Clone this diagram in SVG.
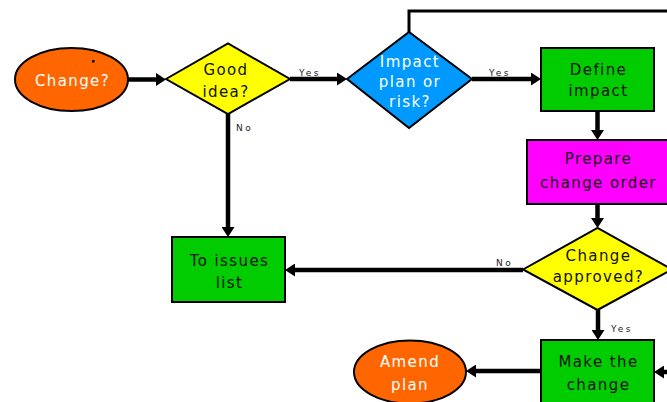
<svg xmlns="http://www.w3.org/2000/svg" width="667" height="402" viewBox="0 0 667 402">
<defs>
<style>
.sh{stroke:#000;stroke-width:2}
.t{font-family:"DejaVu Sans",sans-serif;font-size:15px;letter-spacing:1.4px;text-anchor:middle}
.w{fill:#fff}
.d{fill:#111}
.lb{font-family:"DejaVu Sans",sans-serif;font-size:9px;letter-spacing:2.5px;fill:#222}
.c{fill:none;stroke:#000;stroke-width:4.5;marker-end:url(#ah)}
.c2{fill:none;stroke:#000;stroke-width:3}
</style>
<marker id="ah" markerUnits="userSpaceOnUse" markerWidth="12" markerHeight="13" viewBox="0 0 10 13" refX="2" refY="6.5" orient="auto">
<path d="M0,0 L10,6.5 L0,13 z" fill="#000"/>
</marker>
</defs>
<rect width="667" height="402" fill="#fff"/>
<g id="connectors">
<line class="c" x1="128" y1="79.5" x2="158" y2="79.5"/>
<line class="c" x1="290" y1="79" x2="339" y2="79"/>
<text class="lb" x="299" y="76">Yes</text>
<line class="c" x1="472" y1="79" x2="533" y2="79"/>
<text class="lb" x="489" y="76">Yes</text>
<polyline class="c2" points="409,32 409,11 667,11"/>
<line class="c" x1="597.5" y1="111" x2="597.5" y2="132"/>
<line class="c" x1="597.5" y1="204" x2="597.5" y2="220"/>
<line class="c" x1="523" y1="270" x2="293" y2="270"/>
<text class="lb" x="496" y="266">No</text>
<line class="c" x1="228" y1="114" x2="228" y2="229"/>
<text class="lb" x="236" y="131">No</text>
<line class="c" x1="598" y1="310" x2="598" y2="332"/>
<text class="lb" x="611" y="332">Yes</text>
<line class="c" x1="541" y1="371" x2="474" y2="371"/>
<line class="c" x1="667" y1="372" x2="662" y2="372"/>
</g>
<g id="change">
<ellipse class="sh" cx="71.5" cy="79.5" rx="56.5" ry="31.5" fill="#FF6600"/>
<rect x="92" y="60" width="2.5" height="2.5" fill="#000"/>
<text class="t w" x="72.5" y="86">Change?</text>
</g>
<g id="good-idea">
<polygon class="sh" points="166,79 228,43.5 290,79 228,114" fill="#FFFF00"/>
<text class="t d" x="226" y="75">Good</text>
<text class="t d" x="226" y="97">idea?</text>
</g>
<g id="impact">
<polygon class="sh" points="347,79 409,32 472,79 409,128" fill="#0099FF"/>
<text class="t w" x="410" y="67">Impact</text>
<text class="t w" x="410" y="87">plan or</text>
<text class="t w" x="410" y="107">risk?</text>
</g>
<g id="define">
<rect class="sh" x="541" y="48" width="113" height="63" fill="#00CC00"/>
<text class="t d" x="598.5" y="75">Define</text>
<text class="t d" x="598.5" y="96">impact</text>
</g>
<g id="prepare">
<rect class="sh" x="527" y="140" width="142" height="64" fill="#FF00FF"/>
<text class="t d" x="598.5" y="164">Prepare</text>
<text class="t d" x="598.5" y="188">change order</text>
</g>
<g id="approved">
<polygon class="sh" points="523,269.5 597.5,228 672,269.5 597.5,310" fill="#FFFF00"/>
<text class="t d" x="598.5" y="261">Change</text>
<text class="t d" x="598.5" y="282">approved?</text>
</g>
<g id="issues">
<rect class="sh" x="172" y="237" width="113" height="65" fill="#00CC00"/>
<text class="t d" x="229.5" y="266">To issues</text>
<text class="t d" x="229.5" y="288">list</text>
</g>
<g id="make">
<rect class="sh" x="541" y="340" width="113" height="70" fill="#00CC00"/>
<text class="t d" x="598.5" y="367">Make the</text>
<text class="t d" x="598.5" y="390">change</text>
</g>
<g id="amend">
<ellipse class="sh" cx="410" cy="372" rx="56" ry="31.5" fill="#FF6600"/>
<text class="t w" x="410" y="367">Amend</text>
<text class="t w" x="410" y="390">plan</text>
</g>
</svg>
